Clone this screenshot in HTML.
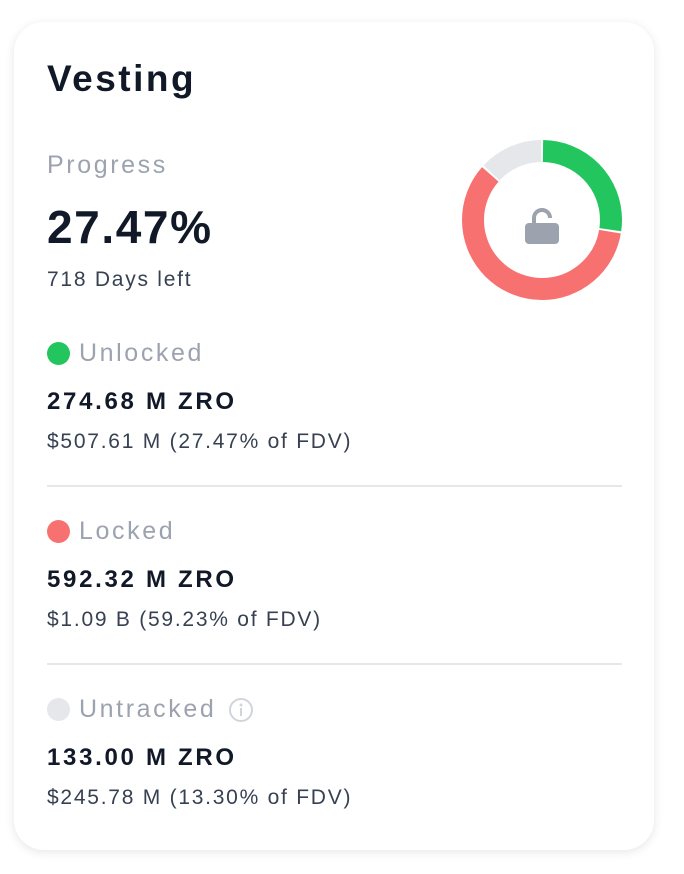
<!DOCTYPE html>
<html><head><style>
body{margin:0;background:#fff;width:684px;height:874px;position:relative;font-family:"Liberation Sans",sans-serif;overflow:hidden}
.card{position:absolute;left:14px;top:22px;width:640px;height:828px;border-radius:30px;background:#fff;box-shadow:0 2px 10px rgba(0,0,0,0.10)}
.t{position:absolute;left:47px;white-space:nowrap}
.h{font-weight:bold;font-size:37px;color:#111827;top:58px;letter-spacing:2.5px}
.g{font-size:25px;color:#9ca3af;letter-spacing:2.6px}
.big{font-weight:bold;font-size:46px;color:#111827;top:200px;letter-spacing:1.6px}
.s{font-size:21px;color:#374151;letter-spacing:1.75px}
.b{font-weight:bold;font-size:24px;color:#111827;letter-spacing:2.7px}
.dot{position:absolute;left:47px;width:23px;height:23px;border-radius:50%}
.hr{position:absolute;left:47px;width:575px;height:2px;background:#e5e7eb}
</style></head><body>
<div class="card"></div>
<div class="t h">Vesting</div>
<div class="t g" style="top:151px">Progress</div>
<div class="t big">27.47%</div>
<div class="t s" style="top:268px">718 Days left</div>

<div class="dot" style="top:342px;background:#22c55e"></div>
<div class="t g" style="left:79px;top:339px">Unlocked</div>
<div class="t b" style="top:388px">274.68 M ZRO</div>
<div class="t s" style="top:430px">$507.61 M (27.47% of FDV)</div>
<div class="hr" style="top:485px"></div>

<div class="dot" style="top:520px;background:#f87171"></div>
<div class="t g" style="left:79px;top:517px">Locked</div>
<div class="t b" style="top:566px">592.32 M ZRO</div>
<div class="t s" style="top:608px">$1.09 B (59.23% of FDV)</div>
<div class="hr" style="top:663px"></div>

<div class="dot" style="top:698px;background:#e5e7eb"></div>
<div class="t g" style="left:79px;top:695px">Untracked</div>
<svg style="position:absolute;left:228px;top:697px" width="26" height="26" viewBox="0 0 26 26"><circle cx="13" cy="13" r="11" fill="none" stroke="#d1d5db" stroke-width="2"/><circle cx="13" cy="8" r="1.5" fill="#d1d5db"/><rect x="12" y="11" width="2" height="8" fill="#d1d5db"/></svg>
<div class="t b" style="top:744px">133.00 M ZRO</div>
<div class="t s" style="top:786px">$245.78 M (13.30% of FDV)</div>

<svg style="position:absolute;left:460px;top:138px" width="164" height="164" viewBox="0 0 164 164">
<g transform="rotate(-90 82 82)" fill="none" stroke-width="22">
<circle cx="82" cy="82" r="69" stroke="#22c55e" stroke-dasharray="117.1 1000" stroke-dashoffset="-1"/>
<circle cx="82" cy="82" r="69" stroke="#f87171" stroke-dasharray="254.8 1000" stroke-dashoffset="-120.1"/>
<circle cx="82" cy="82" r="69" stroke="#e5e7eb" stroke-dasharray="55.6 1000" stroke-dashoffset="-376.9"/>
</g>
<path d="M74 88 v-8 a8 8 0 0 1 16 0" fill="none" stroke="#9ca3af" stroke-width="4"/>
<rect x="65" y="85" width="34" height="21" rx="4" fill="#9ca3af"/>
</svg>
</body></html>
